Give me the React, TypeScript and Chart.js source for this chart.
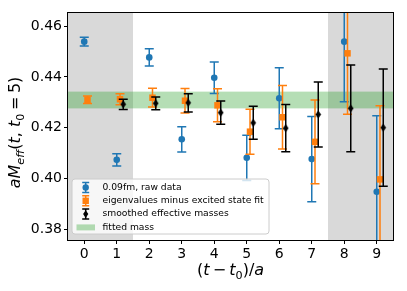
import { useEffect, useRef } from "react";
import { Chart, registerables } from "chart.js";

Chart.register(...registerables);

// ---- data ----
const steps = [0, 1, 2, 3, 4, 5, 6, 7, 8, 9];
const rawMass = [0.4539, 0.4073, 0.4477, 0.4154, 0.4397, 0.4081, 0.4316, 0.4076, 0.4539, 0.3947];
const rawErr = [0.0017, 0.0024, 0.0034, 0.005, 0.0062, 0.0089, 0.012, 0.0168, 0.0237, 0.03];
const eigMass = [0.431, 0.4312, 0.4318, 0.4306, 0.4288, 0.4184, 0.4241, 0.4144, 0.4493, 0.3996];
const eigErr = [0.0015, 0.0022, 0.0037, 0.0048, 0.0065, 0.0089, 0.0125, 0.0165, 0.024, 0.029];
const smoothMass: (number | null)[] = [null, 0.4292, 0.4296, 0.4298, 0.4259, 0.4219, 0.4198, 0.4252, 0.4276, 0.42];
const smoothErr: (number | null)[] = [null, 0.002, 0.0025, 0.0036, 0.0046, 0.0065, 0.0093, 0.0128, 0.0171, 0.0231];
const fitBand = [0.4276, 0.4342];
const excludedRanges = [
  [-0.5, 1.5],
  [7.5, 9.5],
];
const xTicks = [0, 1, 2, 3, 4, 5, 6, 7, 8, 9];
const yTicks = [0.38, 0.4, 0.42, 0.44, 0.46];
const legendLabels = [
  "0.09fm, raw data",
  "eigenvalues minus excited state fit",
  "smoothed effective masses",
  "fitted mass",
];

const BLUE = "#1f77b4";
const ORANGE = "#ff7f0e";
const BLACK = "#000000";
const GREY_SPAN = "rgba(128,128,128,0.3)";
const GREEN_SPAN = "rgba(44,160,44,0.35)";
const FONT = "'DejaVu Sans', sans-serif";

type Seg = { t: string; italic?: boolean; sub?: boolean; space?: number };

function drawMath(ctx: CanvasRenderingContext2D, segs: Seg[], size: number, cx: number, cy: number) {
  const fontFor = (s: Seg) => `${s.italic ? "italic " : ""}${s.sub ? size * 0.7 : size}px ${FONT}`;
  let total = 0;
  const widths = segs.map((s) => {
    ctx.font = fontFor(s);
    const w = ctx.measureText(s.t).width + (s.space || 0) * size;
    total += w;
    return w;
  });
  let x = cx - total / 2;
  ctx.textBaseline = "alphabetic";
  ctx.textAlign = "left";
  segs.forEach((s, i) => {
    ctx.font = fontFor(s);
    ctx.fillText(s.t, x + ((s.space || 0) * size) / 2, cy + (s.sub ? size * 0.22 : 0));
    x += widths[i];
  });
}

function makeThinDiamond(): HTMLCanvasElement {
  const c = document.createElement("canvas");
  c.width = 7;
  c.height = 9;
  const g = c.getContext("2d")!;
  g.fillStyle = BLACK;
  g.beginPath();
  g.moveTo(3.5, 0.5);
  g.lineTo(6.3, 4.5);
  g.lineTo(3.5, 8.5);
  g.lineTo(0.7, 4.5);
  g.closePath();
  g.fill();
  return c;
}

function drawErrIcon(ctx: CanvasRenderingContext2D, x: number, y: number, color: string, kind: string) {
  ctx.strokeStyle = color;
  ctx.fillStyle = color;
  ctx.lineWidth = 1.5;
  ctx.beginPath();
  ctx.moveTo(x, y - 5);
  ctx.lineTo(x, y + 5);
  ctx.moveTo(x - 3.5, y - 5);
  ctx.lineTo(x + 3.5, y - 5);
  ctx.moveTo(x - 3.5, y + 5);
  ctx.lineTo(x + 3.5, y + 5);
  ctx.stroke();
  ctx.beginPath();
  if (kind === "circle") {
    ctx.arc(x, y, 3.2, 0, Math.PI * 2);
  } else if (kind === "square") {
    ctx.rect(x - 3.2, y - 3.2, 6.4, 6.4);
  } else {
    ctx.moveTo(x, y - 3.8);
    ctx.lineTo(x + 2.6, y);
    ctx.lineTo(x, y + 3.8);
    ctx.lineTo(x - 2.6, y);
    ctx.closePath();
  }
  ctx.fill();
}

const customPlugin = {
  id: "custom",
  beforeDatasetsDraw(chart: any) {
    const { ctx, chartArea: a, scales } = chart;
    const x = scales.x;
    const y = scales.y;
    ctx.save();
    ctx.beginPath();
    ctx.rect(a.left, a.top, a.right - a.left, a.bottom - a.top);
    ctx.clip();
    ctx.fillStyle = GREY_SPAN;
    for (const [lo, hi] of excludedRanges) {
      const x0 = x.getPixelForValue(lo);
      const x1 = x.getPixelForValue(hi);
      ctx.fillRect(x0, a.top, x1 - x0, a.bottom - a.top);
    }
    ctx.fillStyle = GREEN_SPAN;
    const y0 = y.getPixelForValue(fitBand[1]);
    const y1 = y.getPixelForValue(fitBand[0]);
    ctx.fillRect(a.left, y0, a.right - a.left, y1 - y0);
    ctx.restore();
  },
  beforeDatasetDraw(chart: any, args: any) {
    const { ctx, chartArea: a, scales } = chart;
    const ds: any = chart.data.datasets[args.index];
    const y = scales.y;
    const x = scales.x;
    ctx.save();
    ctx.beginPath();
    ctx.rect(a.left, a.top, a.right - a.left, a.bottom - a.top);
    ctx.clip();
    ctx.strokeStyle = ds.errColor;
    ctx.lineWidth = 1.5;
    ds.data.forEach((p: any, i: number) => {
      const e = ds.errors[i];
      if (p.y == null || e == null) return;
      const px = x.getPixelForValue(p.x);
      const top = y.getPixelForValue(p.y + e);
      const bot = y.getPixelForValue(p.y - e);
      ctx.beginPath();
      ctx.moveTo(px, top);
      ctx.lineTo(px, bot);
      ctx.moveTo(px - 4.5, top);
      ctx.lineTo(px + 4.5, top);
      ctx.moveTo(px - 4.5, bot);
      ctx.lineTo(px + 4.5, bot);
      ctx.stroke();
    });
    ctx.restore();
  },
  afterDatasetsDraw(chart: any) {
    const { ctx, chartArea: a } = chart;
    ctx.save();
    // frame
    ctx.strokeStyle = "#000";
    ctx.lineWidth = 1;
    ctx.strokeRect(Math.round(a.left) - 0.5, Math.round(a.top) - 0.5, Math.round(a.right - a.left) + 1, Math.round(a.bottom - a.top) + 1);

    // legend
    const lx = 72, ly = 179, lw = 197, lh = 55, r = 3;
    ctx.beginPath();
    ctx.moveTo(lx + r, ly);
    ctx.arcTo(lx + lw, ly, lx + lw, ly + lh, r);
    ctx.arcTo(lx + lw, ly + lh, lx, ly + lh, r);
    ctx.arcTo(lx, ly + lh, lx, ly, r);
    ctx.arcTo(lx, ly, lx + lw, ly, r);
    ctx.closePath();
    ctx.fillStyle = "rgba(255,255,255,0.8)";
    ctx.fill();
    ctx.strokeStyle = "#cccccc";
    ctx.lineWidth = 1;
    ctx.stroke();

    const rows = [187.5, 200.8, 214.1, 227.4];
    const iconX = 85.7;
    drawErrIcon(ctx, iconX, rows[0], BLUE, "circle");
    drawErrIcon(ctx, iconX, rows[1], ORANGE, "square");
    drawErrIcon(ctx, iconX, rows[2], BLACK, "diamond");
    ctx.fillStyle = GREEN_SPAN;
    ctx.fillRect(76.5, rows[3] - 3, 18.5, 6);
    ctx.fillStyle = "#000";
    ctx.font = `9.2px ${FONT}`;
    ctx.textBaseline = "middle";
    ctx.textAlign = "left";
    legendLabels.forEach((t, i) => ctx.fillText(t, 102.5, rows[i]));

    // axis titles
    ctx.fillStyle = "#000";
    const xc = (a.left + a.right) / 2;
    drawMath(
      ctx,
      [
        { t: "(" },
        { t: "t", italic: true },
        { t: "−", space: 0.4 },
        { t: "t", italic: true },
        { t: "0", sub: true },
        { t: ")/" },
        { t: "a", italic: true },
      ],
      16,
      xc,
      275
    );
    ctx.save();
    ctx.translate(20, (a.top + a.bottom) / 2 + 6);
    ctx.rotate(-Math.PI / 2);
    drawMath(
      ctx,
      [
        { t: "aM", italic: true },
        { t: "eff", italic: true, sub: true },
        { t: "(" },
        { t: "t", italic: true },
        { t: ", " },
        { t: "t", italic: true },
        { t: "0", sub: true },
        { t: "=", space: 0.45 },
        { t: "5)" },
      ],
      16,
      0,
      0
    );
    ctx.restore();
    ctx.restore();
  },
};

export default function App() {
  const ref = useRef<HTMLCanvasElement | null>(null);
  useEffect(() => {
    if (!ref.current) return;
    const diamond = makeThinDiamond();
    const chart = new Chart(ref.current, {
      type: "scatter",
      data: {
        datasets: [
          {
            label: legendLabels[0],
            data: steps.map((t, i) => ({ x: t, y: rawMass[i] })),
            errors: rawErr,
            errColor: BLUE,
            pointStyle: "circle",
            pointRadius: 3.3,
            backgroundColor: BLUE,
            borderColor: BLUE,
            borderWidth: 0,
            order: 3,
          } as any,
          {
            label: legendLabels[1],
            data: steps.map((t, i) => ({ x: t + 0.1, y: eigMass[i] })),
            errors: eigErr,
            errColor: ORANGE,
            pointStyle: "rect",
            pointRadius: 4.6,
            backgroundColor: ORANGE,
            borderColor: ORANGE,
            borderWidth: 0,
            order: 2,
          } as any,
          {
            label: legendLabels[2],
            data: steps.map((t, i) => ({ x: t + 0.2, y: smoothMass[i] })),
            errors: smoothErr,
            errColor: BLACK,
            pointStyle: diamond,
            pointRadius: 3.5,
            backgroundColor: BLACK,
            borderColor: BLACK,
            borderWidth: 0,
            order: 1,
          } as any,
        ],
      },
      options: {
        responsive: false,
        animation: false,
        devicePixelRatio: 1,
        layout: { padding: { top: 13, right: 14, left: 0, bottom: 0 } },
        plugins: { legend: { display: false }, tooltip: { enabled: false } },
        events: [],
        scales: {
          x: {
            type: "linear",
            min: -0.5,
            max: 9.5,
            afterBuildTicks: (s: any) => {
              s.ticks = xTicks.map((v) => ({ value: v }));
            },
            afterFit: (s: any) => {
              s.height = 51;
            },
            ticks: {
              color: "#000",
              font: { family: FONT, size: 14 },
              padding: 2,
              maxRotation: 0,
              autoSkip: false,
              callback: (v: any) => String(v),
            },
            grid: { drawOnChartArea: false, drawTicks: true, tickLength: 4, color: "#000", tickColor: "#000", lineWidth: 1 },
            border: { display: false },
          },
          y: {
            type: "linear",
            min: 0.3757,
            max: 0.4652,
            afterBuildTicks: (s: any) => {
              s.ticks = yTicks.map((v) => ({ value: v }));
            },
            afterFit: (s: any) => {
              s.width = 68;
            },
            ticks: {
              color: "#000",
              font: { family: FONT, size: 14 },
              padding: 2,
              autoSkip: false,
              callback: (v: any) => Number(v).toFixed(2),
            },
            grid: { drawOnChartArea: false, drawTicks: true, tickLength: 4, color: "#000", tickColor: "#000", lineWidth: 1 },
            border: { display: false },
          },
        },
      },
      plugins: [customPlugin],
    } as any);
    return () => chart.destroy();
  }, []);
  return (
    <div style={{ position: "absolute", left: 0, top: 0, width: 407, height: 291, background: "#fff" }}>
      <canvas ref={ref} width={407} height={291} style={{ display: "block" }} />
    </div>
  );
}
